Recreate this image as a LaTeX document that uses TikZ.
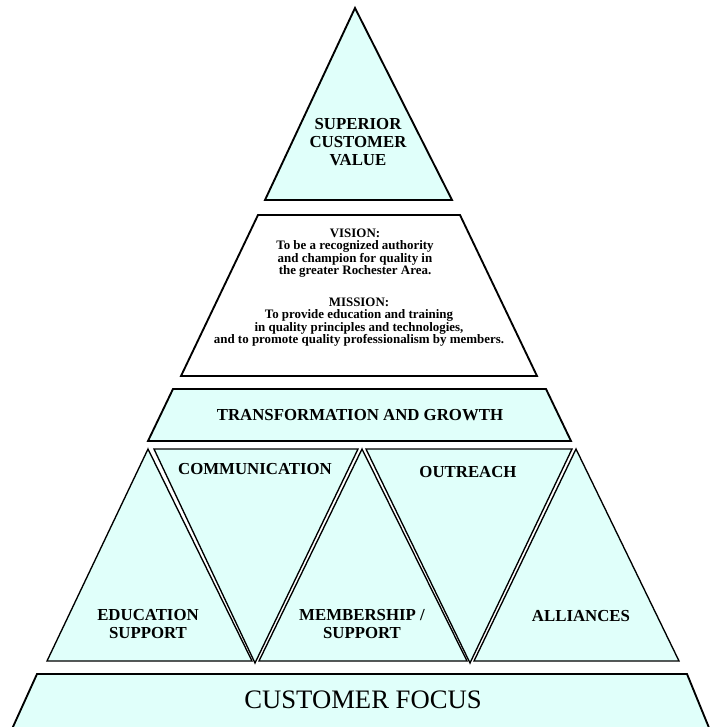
\documentclass[tikz,border=0pt]{standalone}
\usepackage{fontspec}
\setmainfont{Liberation Serif}
\definecolor{pale}{RGB}{224,255,250}
\begin{document}
\begin{tikzpicture}[x=0.75pt,y=-0.75pt,
    block/.style={draw,fill=pale,line width=1.4pt,line join=miter},
    part/.style={draw,fill=pale,line width=1pt,line join=miter},
    lbl/.style={font=\bfseries\fontsize{12.6}{13.5}\selectfont,align=center},
    small/.style={font=\bfseries\fontsize{9.7}{9.3}\selectfont,align=center}]
                \clip (0,0) rectangle (716,727);
                \draw[block] (355,8) -- (452,200) -- (265,200) -- cycle;
                \node[lbl] (V) at (358,142) {SUPERIOR\\CUSTOMER\\VALUE};
                \draw[line width=1.4pt] (258,215) -- (460,215) -- (537,376) -- (181,376) -- cycle;
                \node[small] (VI) at (355,253) {VISION:\\To be a recognized authority\\and champion for quality in\\the greater Rochester Area.};
                \node[small] (MI) at (359,322) {MISSION:\\To provide education and training\\in quality principles and technologies,\\and to promote quality professionalism by members.};
                \draw[block] (173,389) -- (546,389) -- (571,441) -- (148,441) -- cycle;
                \node[lbl] (TG) at (360,415) {TRANSFORMATION AND GROWTH};
                \draw[part] (47,661) -- (148,449) -- (252,661) -- cycle;
                \draw[part] (154,449) -- (358,449) -- (255,663) -- cycle;
                \draw[part] (259,661) -- (362,449) -- (467,661) -- cycle;
                \draw[part] (366,449) -- (572,449) -- (470,663) -- cycle;
                \draw[part] (474,661) -- (576,449) -- (679,661) -- cycle;
                \node[lbl] (CO) at (255,469) {COMMUNICATION};
                \node[lbl] (OU) at (468,472) {OUTREACH};
                \node[lbl] (ED) at (148,624) {EDUCATION\\SUPPORT};
                \node[lbl] (ME) at (362,624) {MEMBERSHIP /\\SUPPORT};
                \node[lbl] (AL) at (581,616) {ALLIANCES};
                \draw[block] (37,674) -- (687,674) -- (714,740) -- (7,740) -- cycle;
                \node[font=\fontsize{20}{22}\selectfont] (CF) at (363,700) {CUSTOMER FOCUS};
            \end{tikzpicture}
\end{document}
